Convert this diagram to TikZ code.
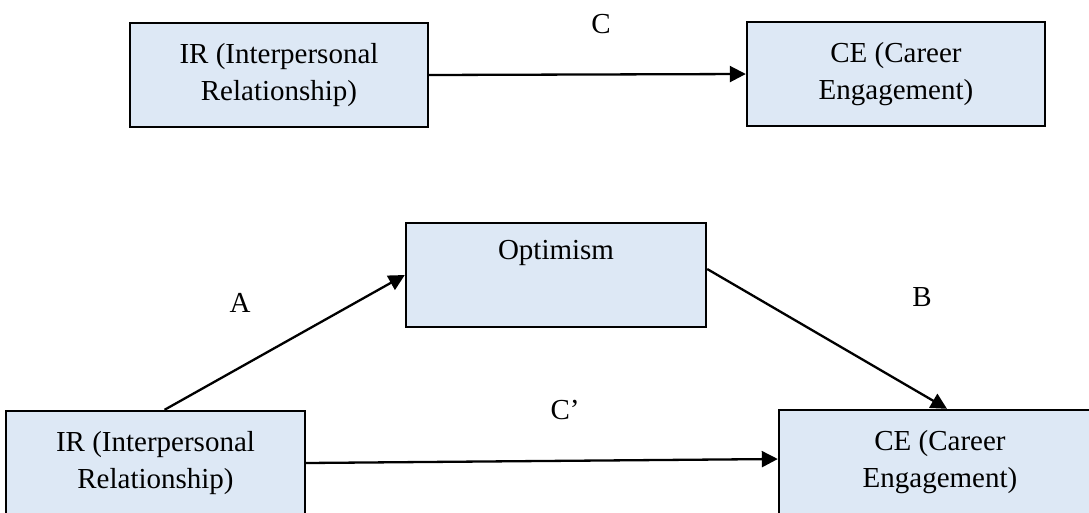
\documentclass[tikz,border=0pt]{standalone}
\usepackage{fontspec}
\setmainfont{Liberation Serif}
\usetikzlibrary{arrows.meta,calc}
\definecolor{boxfill}{HTML}{DDE8F5}
\begin{document}
\begin{tikzpicture}[x=1pt,y=-1pt,
  box/.style={draw=black, line width=2.4pt, fill=boxfill, minimum width=298pt,
    minimum height=104pt, align=center, inner sep=0pt,
    font=\fontsize{29}{37}\selectfont},
  topline/.style={text height=20pt, text depth=52pt, inner ysep=16pt},
  link/.style={line width=2.3pt, -{Triangle[length=16pt,width=16pt]}},
  lbl/.style={font=\fontsize{29}{35}\selectfont, inner sep=0pt}]
\useasboundingbox (0,0) rectangle (1089,512);
\path[clip] (0,0) rectangle (1089,512);

% total effect
\node[box] (ir1) at (279,75) {IR (Interpersonal\\Relationship)};
\node[box] (ce1) at (896,74) {CE (Career\\Engagement)};
\draw[link] (ir1.east) -- (ce1.west);
\node[lbl] (lc) at (601,24) {C};

% mediated model
\node[box, topline, minimum width=300pt] (opt) at (556,275) {Optimism};
\node[box, minimum width=299pt] (ir2) at (155.5,463) {IR (Interpersonal\\Relationship)};
\node[box, minimum width=322pt] (ce2) at (940,462) {CE (Career\\Engagement)};

\draw[link] ($(ir2.north west)!0.53!(ir2.north east)$) -- (opt.west);
\draw[link] ($(opt.east)+(0,-6)$) -- ($(ce2.north)+(7,0)$);
\draw[link] (ir2.east) -- ($(ce2.west)+(0,-3)$);

\node[lbl] (la) at (240,303) {A};
\node[lbl] (lb) at (922,297) {B};
\node[lbl] (lcp) at (565,410) {C’};
\end{tikzpicture}
\end{document}
